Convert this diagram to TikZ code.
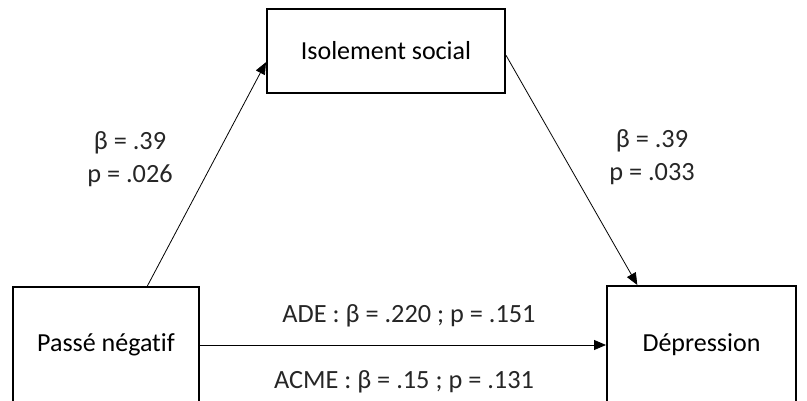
\documentclass[tikz,border=0pt]{standalone}
\usepackage{fontspec}
\setmainfont[Ligatures=NoCommon]{Carlito}
\usetikzlibrary{arrows.meta,calc}
\begin{document}
\begin{tikzpicture}[x=1pt,y=-1pt,
  box/.style={draw=black,line width=2pt,inner sep=0pt,font=\fontsize{26}{29}\selectfont},
  lab/.style={inner sep=0pt,align=center,text=black!85,font=\fontsize{26.3}{33}\selectfont},
  conn/.style={line width=0.8pt,-{Triangle[length=12pt,width=10pt]}}]
\useasboundingbox (0,0) rectangle (807,401);
\clip (0,0) rectangle (807,401);
\fill[white] (0,0) rectangle (807,401);
\node[box,minimum width=238pt,minimum height=84pt] (is) at (386,51) {Isolement social};
\node[box,minimum width=186pt,minimum height=116pt] (pn) at (106,345) {Passé négatif};
\node[box,minimum width=189pt,minimum height=118pt] (dp) at (701.5,345) {Dépression};
\draw[conn] ($(pn.north west)!0.72!(pn.north east)$) -- ($(is.north west)!0.63!(is.south west)$);
\draw[conn] ($(is.north east)!0.55!(is.south east)$) -- ($(dp.north west)!0.164!(dp.north east)$);
\draw[conn] (pn.east) -- (dp.west);
\node[lab] (l1) at (130,159) {β = .39\\p = .026};
\node[lab] (l2) at (652,157) {β = .39\\p = .033};
\node[lab] (l3) at (409,316) {ADE : β = .220 ; p = .151};
\node[lab] (l4) at (404,382) {ACME : β = .15 ; p = .131};
\end{tikzpicture}
\end{document}
